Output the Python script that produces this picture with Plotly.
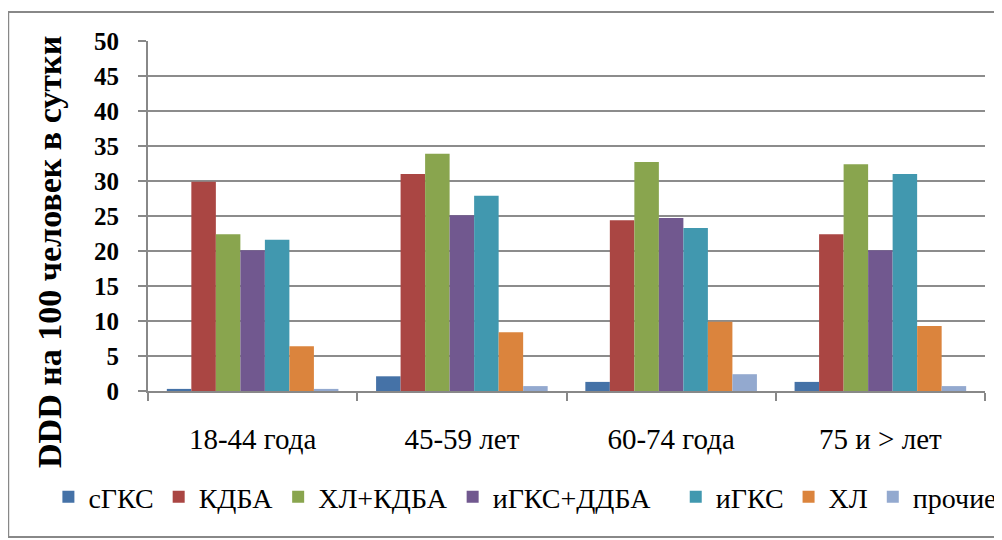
import plotly.graph_objects as go

categories = ["18-44 года", "45-59 лет", "60-74 года", "75 и > лет"]
series_names = ["сГКС", "КДБА", "ХЛ+КДБА", "иГКС+ДДБА", "иГКС", "ХЛ", "прочие"]
s_sgks = [0.3, 2.1, 1.3, 1.3]
s_kdba = [29.9, 31.0, 24.4, 22.4]
s_xl_kdba = [22.4, 33.9, 32.7, 32.4]
s_igks_ddba = [20.1, 25.1, 24.7, 20.1]
s_igks = [21.6, 27.9, 23.3, 31.0]
s_xl = [6.4, 8.4, 9.9, 9.3]
s_other = [0.3, 0.7, 2.4, 0.7]
series_values = [s_sgks, s_kdba, s_xl_kdba, s_igks_ddba, s_igks, s_xl, s_other]
colors = ["#4572A7", "#AA4643", "#89A54E", "#71588F", "#4198AF", "#DB843D", "#93A9CF"]
y_ticks = [0, 5, 10, 15, 20, 25, 30, 35, 40, 45, 50]

FONT = "Liberation Serif"

fig = go.Figure()
for i, (name, vals, col) in enumerate(zip(series_names, series_values, colors)):
    fig.add_trace(go.Bar(x=categories, y=vals, name=name, marker_color=col,
                         marker_line_width=0,
                         legend="legend" if i < 4 else "legend2"))

legend_common = dict(orientation="h", yref="paper", y=-0.303, yanchor="middle",
                     font=dict(family=FONT, size=28, color="black"),
                     itemwidth=30, traceorder="normal", tracegroupgap=0,
                     bgcolor="rgba(0,0,0,0)")

fig.update_layout(
    width=994, height=532,
    margin=dict(l=140, r=17, t=33, b=149, autoexpand=False),
    paper_bgcolor="white", plot_bgcolor="white",
    barmode="group", bargap=0.18, bargroupgap=0,
    showlegend=True,
    legend=dict(xref="paper", x=-0.119, xanchor="left", **legend_common),
    legend2=dict(xref="paper", x=1.02, xanchor="right", **legend_common),
    xaxis=dict(type="category", tickson="boundaries", ticks="outside", ticklen=8,
               tickcolor="#888888", tickwidth=2,
               showline=True, linecolor="#888888", linewidth=2,
               showgrid=False, ticklabelstandoff=21,
               tickfont=dict(family=FONT, size=29, color="black")),
    yaxis=dict(range=[0, 50], tickvals=y_ticks,
               ticktext=["<b>%d</b>" % v for v in y_ticks],
               ticks="outside", ticklen=8,
               tickcolor="#888888", tickwidth=2,
               showline=True, linecolor="#888888", linewidth=2,
               showgrid=True, gridcolor="#8c8c8c", gridwidth=2, zeroline=False,
               ticklabelstandoff=14,
               tickfont=dict(family=FONT, size=25, color="black")),
    annotations=[dict(text="<b>DDD на 100 человек в сутки</b>", xref="paper", yref="paper",
                      x=-0.118, y=0.398, xanchor="center", yanchor="middle", textangle=-90,
                      showarrow=False, font=dict(family=FONT, size=34, color="black"))],
    shapes=[dict(type="rect", xref="paper", yref="paper", x0=-0.167, x1=1.018,
                 y0=-0.417, y1=1.083, line=dict(color="#888888", width=2),
                 fillcolor="rgba(0,0,0,0)", layer="below")],
)

fig.write_html("out.html")
